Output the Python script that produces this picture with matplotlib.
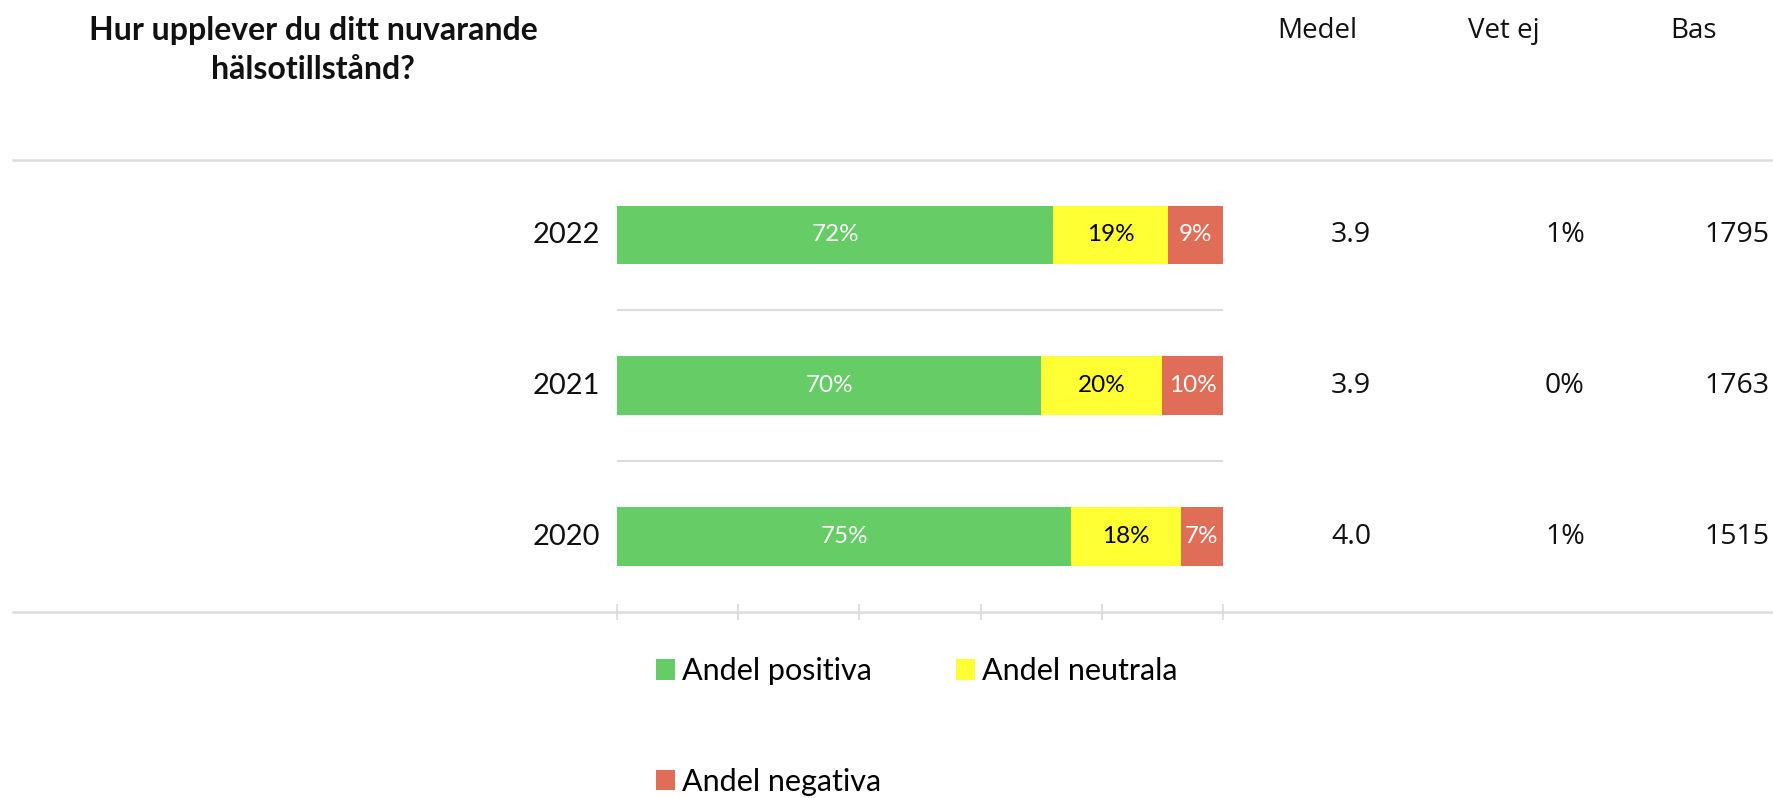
import matplotlib
matplotlib.use("Agg")
import matplotlib.pyplot as plt
import matplotlib.transforms as mtransforms
import numpy as np

years = ["2020", "2021", "2022"]
positiva = [75, 70, 72]
neutrala = [18, 20, 19]
negativa = [7, 10, 9]
medel = ["4.0", "3.9", "3.9"]
vet_ej = ["1%", "0%", "1%"]
bas = ["1515", "1763", "1795"]
series_names = ["Andel positiva", "Andel neutrala", "Andel negativa"]
colors = ["#66CC66", "#FFFF33", "#E06D57"]
label_colors = ["white", "black", "white"]
title = "Hur upplever du ditt nuvarande\nhälsotillstånd?"
headers = ["Medel", "Vet ej", "Bas"]

W, H = 1774, 798
fig = plt.figure(figsize=(W / 100, H / 100), dpi=100)
fig.patch.set_facecolor("white")

# axes region in pixels
x0, x1 = 617, 1223
y_top, y_bot = 159.5, 612
ax = fig.add_axes([x0 / W, 1 - y_bot / H, (x1 - x0) / W, (y_bot - y_top) / H])

ypos = np.arange(len(years))
left = np.zeros(len(years))
containers = []
for vals, col, lc, name in zip([positiva, neutrala, negativa], colors, label_colors, series_names):
    vals = np.array(vals, dtype=float)
    bc = ax.barh(ypos, vals, left=left, height=0.39, color=col, label=name, linewidth=0)
    containers.append(bc)
    for yy, l, v in zip(ypos, left, vals):
        ax.text(l + v / 2, yy, f"{int(v)}%", ha="center", va="center", color=lc,
                fontsize=17.5, family="Lato")
    left += vals

ax.set_xlim(0, 100)
ax.set_ylim(-0.5, len(years) - 0.5)
for s in ax.spines.values():
    s.set_visible(False)
ax.set_xticks(np.arange(0, 101, 20))
ax.set_xticklabels([])
ax.tick_params(axis="x", direction="inout", length=11, width=1.2, color="#D9D9D9")
ax.set_yticks([])

grey = "#DDDDDD"
# full-width lines top and bottom
xmin_a = (13 - x0) / (x1 - x0)
xmax_a = (W - x0) / (x1 - x0)
for yv in [-0.5, len(years) - 0.5]:
    ax.axhline(yv, xmin=xmin_a, xmax=xmax_a, color=grey, lw=1.8, clip_on=False, zorder=0)
# separators between bars
for yv in ypos[:-1] + 0.5:
    ax.axhline(yv, xmin=0, xmax=1, color=grey, lw=1.5, zorder=0)

# year labels
trans_y = mtransforms.blended_transform_factory(fig.transFigure, ax.transData)
for yy, yr in zip(ypos, years):
    fig.text(600 / W, yy, yr, transform=trans_y, ha="right", va="center",
             fontsize=21, family="Lato", color="#111111")

# table columns
col_hdr_x = [1317, 1504, 1694]
col_val_x = [1351, 1565, 1737]
for hx, hd in zip(col_hdr_x, headers):
    fig.text(hx / W, 1 - 31 / H, hd, ha="center", va="center", fontsize=20,
             family="Open Sans", color="#111111")
for yy, m, v, b in zip(ypos, medel, vet_ej, bas):
    for cx, s in zip(col_val_x, [m, v, b]):
        fig.text(cx / W, yy, s, transform=trans_y, ha="center", va="center",
                 fontsize=20.5, family="Open Sans", color="#111111")

# title
fig.text(313 / W, 1 - 50 / H, title, ha="center", va="center", fontsize=23,
         family="Lato", weight="bold", linespacing=1.38, color="#111111")

# legend
handles = [containers[0], containers[2], containers[1]]
labels = [series_names[0], series_names[2], series_names[1]]
leg = fig.legend(handles, labels, ncol=2, loc="upper left",
                 bbox_to_anchor=(656 / W, 1 - 657 / H), bbox_transform=fig.transFigure,
                 frameon=False, borderpad=0, borderaxespad=0,
                 prop={"family": "Lato", "size": 22},
                 handlelength=0.63, handleheight=0.66, handletextpad=0.22,
                 labelspacing=2.71, columnspacing=2.45)

fig.savefig("out.png", dpi=100, facecolor="white")
